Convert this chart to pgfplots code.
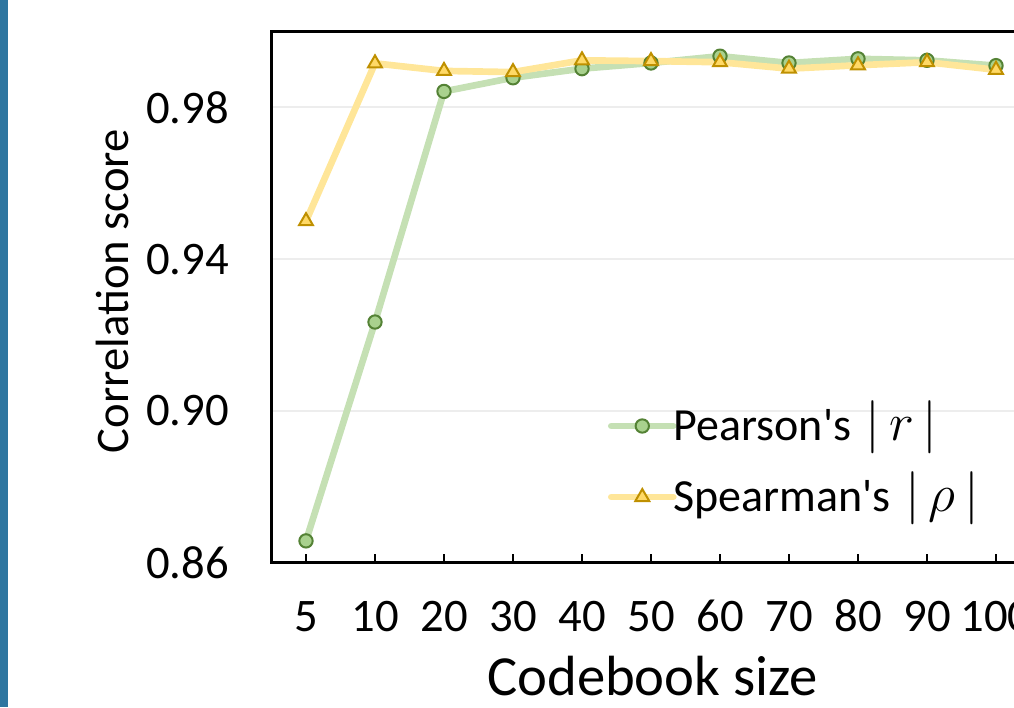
\documentclass[border=0pt]{standalone}
\usepackage{graphicx}
\usepackage{pgfplots}
\pgfplotsset{compat=1.18}
\usepackage{fontspec}
\setmainfont{Carlito}
\definecolor{pline}{HTML}{C5E0B4}
\definecolor{pfill}{HTML}{A9D18E}
\definecolor{pedge}{HTML}{548235}
\definecolor{sline}{HTML}{FFE699}
\definecolor{sfill}{HTML}{FFD966}
\definecolor{sedge}{HTML}{BF9000}
\definecolor{gridgray}{HTML}{EDEDED}
\definecolor{barblue}{HTML}{2E76A0}
\newcommand{\legmath}[1]{\hspace{3pt}\scalebox{1.6}{$#1$}}
\begin{document}
\begin{tikzpicture}
\useasboundingbox (-203.625pt,-108.375pt) rectangle (556.875pt,421.875pt);
\clip (-203.625pt,-108.375pt) rectangle (556.875pt,421.875pt);
\fill[barblue] (-203.625pt,-108.375pt) rectangle (-197.4pt,421.875pt);
\begin{axis}[
  scale only axis, width=569.25pt, height=398.25pt,
  xmin=-0.5, xmax=10.5, ymin=0.86, ymax=1.0,
  xtick={0,1,2,3,4,5,6,7,8,9,10},
  xticklabels={5,10,20,30,40,50,60,70,80,90,100},
  ytick={0.86,0.90,0.94,0.98},
  /pgf/number format/assume math mode=true,
  yticklabel={\pgfmathprintnumber[fixed,fixed zerofill,precision=2]{\tick}},
  tick label style={font=\fontsize{35}{40}\selectfont},
  yticklabel style={anchor=east, xshift=-28.5pt},
  xticklabel style={anchor=base, yshift=-52.1pt},
  xtick pos=lower, tick align=inside,
  major tick length=6.75pt,
  major tick style={line width=2pt, black},
  ytick style={draw=none},
  axis line style={line width=2.6pt, black},
  ymajorgrids,
  major grid style={line width=1.5pt, gridgray},
  xlabel={Codebook size},
  ylabel={Correlation score},
  xlabel style={font=\fontsize{42.5}{48}\selectfont, at={(axis description cs:0.502,-0.2496)}, anchor=base},
  ylabel style={font=\fontsize{35}{42}\selectfont, at={(axis description cs:-0.189,0.511)}, anchor=base},
  legend style={at={(axis description cs:0.4433,0.1902)}, anchor=west, draw=none, fill=none,
    inner sep=0pt, outer sep=0pt, font=\fontsize{34.5}{40}\selectfont,
    row sep=21.25pt, column sep=-2.25pt,
    nodes={inner sep=0pt, text height=27pt, text depth=5pt}},
  legend cell align=left,
  legend image code/.code={\draw[mark repeat=2,mark phase=2,#1] plot coordinates {(0pt,0pt) (23.25pt,0pt) (46.5pt,0pt)};},
]
\addplot[pline, line width=5pt, line join=round, line cap=round,
  mark=*, mark size=5pt, mark options={fill=pfill, draw=pedge, line width=1.5pt}]
  coordinates {(0,0.8657) (1,0.9234) (2,0.9842) (3,0.9878) (4,0.9902) (5,0.9917) (6,0.9935) (7,0.9917) (8,0.9928) (9,0.9924) (10,0.9910)};
\addlegendentry{Pearson\textquotesingle s \legmath{|\,r\,|}}
\addplot[sline, line width=5pt, line join=round, line cap=round,
  mark=triangle*, mark size=6pt, mark options={fill=sfill, draw=sedge, line width=1.5pt, line join=miter}]
  coordinates {(0,0.9500) (1,0.9916) (2,0.9896) (3,0.9893) (4,0.9924) (5,0.9922) (6,0.9919) (7,0.9902) (8,0.9911) (9,0.9919) (10,0.9899)};
\addlegendentry{Spearman\textquotesingle s \legmath{|\,\rho\,|}}
\end{axis}
\end{tikzpicture}
\end{document}
